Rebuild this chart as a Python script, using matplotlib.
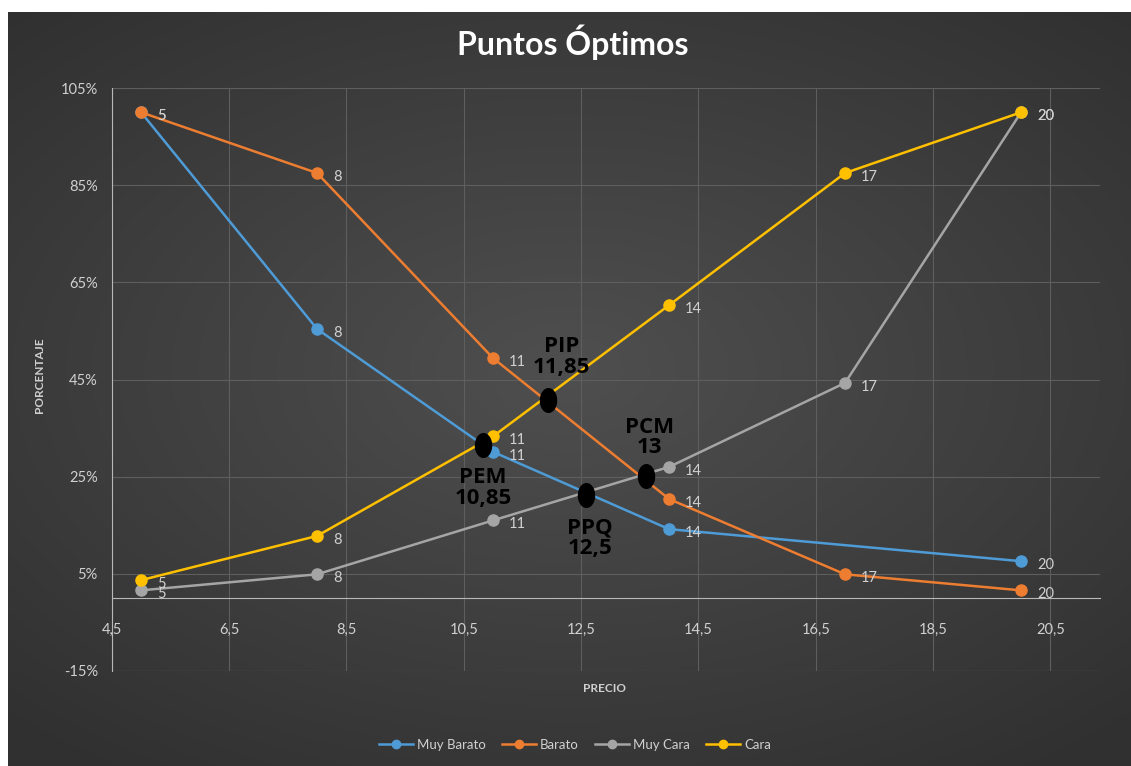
import numpy as np
import matplotlib
matplotlib.use("Agg")
import matplotlib.pyplot as plt
from matplotlib.lines import Line2D
from matplotlib.path import Path

# data
x_muy_barato = [5, 8, 11, 14, 20]
muy_barato = [100, 55.4, 30.1, 14.2, 7.6]
x_barato = [5, 8, 11, 14, 17, 20]
barato = [100, 87.5, 49.4, 20.4, 4.9, 1.6]
x_muy_cara = [5, 8, 11, 14, 17, 20]
muy_cara = [1.6, 4.9, 16.0, 27.0, 44.3, 100]
x_cara = [5, 8, 11, 14, 17, 20]
cara = [3.7, 12.8, 33.3, 60.3, 87.5, 100]

# optimum points (black dots) and their captions
opt_names = ["PEM\n10,85", "PIP\n11,85", "PPQ\n12,5", "PCM\n13"]
opt_x = [10.83, 11.93, 12.58, 13.6]
opt_y = [31.5, 40.8, 21.2, 25.1]

y_ticks = [-15, 5, 25, 45, 65, 85, 105]
x_ticks = [4.5, 6.5, 8.5, 10.5, 12.5, 14.5, 16.5, 18.5, 20.5]

plt.rcParams['font.family'] = ['Lato', 'DejaVu Sans']
W, H = 1131, 766
fig = plt.figure(figsize=(W / 100, H / 100), dpi=100, facecolor='white')

# dark background with soft radial gradient
bg = fig.add_axes([8 / W, 0, 1 - 8 / W, (H - 12) / H])
gx, gy = np.meshgrid(np.linspace(-1, 1, 400), np.linspace(-1, 1, 300))
r = np.sqrt((gx * 0.9) ** 2 + ((gy + 0.05) * 1.0) ** 2)
shade = 0.31 - 0.12 * np.clip(r / 1.3, 0, 1)
img = np.dstack([shade, shade, shade])
bg.imshow(img, aspect='auto', extent=[0, 1, 0, 1])
bg.set_axis_off()

ax = fig.add_axes([111.7 / W, 1 - 671 / H, (1100 - 111.7) / W, (671 - 88) / H])
ax.set_facecolor('none')
ax.set_xlim(4.5, 4.5 + (1100 - 111.7) / 58.67)
ax.set_ylim(-15, 105)

grid_c = '#5e5e5e'
ax.set_yticks(y_ticks)
ax.set_xticks(x_ticks)
ax.set_yticklabels(["%d%%" % v for v in y_ticks])
ax.set_xticklabels([("%.1f" % v).replace('.', ',') for v in x_ticks])
ax.grid(True, color=grid_c, lw=0.8)
ax.set_axisbelow(True)
for s in ['top', 'right']:
    ax.spines[s].set_visible(False)
ax.spines['bottom'].set_position(('data', 0))
ax.spines['bottom'].set_color('#b8b8b8')
ax.spines['left'].set_color('#b8b8b8')
ax.tick_params(axis='both', length=0, colors='#d0d0d0', labelsize=10.5)
ax.tick_params(axis='y', pad=10)
ax.tick_params(axis='x', pad=18)
ax.axhline(-15, color=grid_c, lw=0.8)

series = [
    ("Muy Barato", x_muy_barato, muy_barato, '#4e9bd6'),
    ("Barato", x_barato, barato, '#ed7d31'),
    ("Muy Cara", x_muy_cara, muy_cara, '#a5a5a5'),
    ("Cara", x_cara, cara, '#ffc000'),
]
handles = []
for name, xs, ys, c in series:
    ax.plot(xs, ys, color=c, lw=1.8, marker='o', ms=8, mec=c, mfc=c, zorder=3)
    for xv, yv in zip(xs, ys):
        ax.annotate(str(xv), (xv, yv), xytext=(16, -4), textcoords='offset pixels',
                    ha='left', va='center', color='#d0d0d0', fontsize=10.5)
    handles.append(Line2D([0], [0], color=c, lw=1.8, marker='o', ms=6, mfc=c, mec=c))

# tall black ellipse marker
t = np.linspace(0, 2 * np.pi, 60)
ellipse = Path(np.column_stack([0.68 * np.cos(t), np.sin(t)]), closed=True)
ax.plot(opt_x, opt_y, linestyle='', marker=ellipse, ms=17, color='black', zorder=5)
offsets = [(0, -43), (14, 43), (4, -43), (4, 39)]
for name, xv, yv, off in zip(opt_names, opt_x, opt_y, offsets):
    ax.annotate(name, (xv, yv), xytext=off, textcoords='offset pixels',
                ha='center', va='center', fontsize=16, fontweight='bold',
                color='black', family=['Open Sans', 'DejaVu Sans'], linespacing=0.95)

fig.text(573 / W, 1 - 42 / H, "Puntos Óptimos", ha='center', va='center',
         fontsize=23, fontweight='bold', color='white')
fig.text(40 / W, 1 - 375 / H, "PORCENTAJE", rotation=90, ha='center', va='center',
         fontsize=8.5, fontweight='bold', color='#d0d0d0')
fig.text(604 / W, 1 - 688 / H, "PRECIO", ha='center', va='center',
         fontsize=8.5, fontweight='bold', color='#d0d0d0')

fig.legend(handles, [s[0] for s in series], loc='center', bbox_to_anchor=(575 / W, 1 - 745 / H),
           ncol=4, frameon=False, labelcolor='#d0d0d0', fontsize=9.5,
           handlelength=2.6, columnspacing=1.2, handletextpad=0.3)

fig.savefig("out.png", dpi=100, facecolor='white')
